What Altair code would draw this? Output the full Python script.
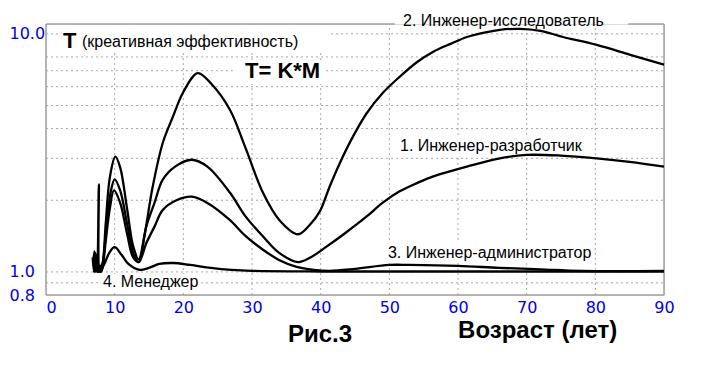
import altair as alt
import pandas as pd

# ---- curves (age, creative efficiency T) ----
c1_x = [6.8, 7.0, 7.2, 7.45, 7.7, 7.85, 8.1, 8.8, 9.4, 10.0, 10.8, 11.8, 12.7, 13.5, 14.6, 15.8, 17.0,
        18.8, 21.2, 23.5, 26.8, 29.0, 31.6, 34.0, 36.7, 38.5, 40.9, 43.5, 46.7, 49.0, 51.5, 54.0, 56.4,
        61.3, 66.1, 70.0, 75.0, 80.2, 85.0, 90.0]
c1_y = [1.15, 1.0, 1.2, 1.02, 2.33, 1.0, 1.02, 1.55, 2.15, 2.45, 2.2, 1.6, 1.2, 1.1, 1.55, 1.95, 2.44,
        2.77, 2.96, 2.77, 2.15, 1.72, 1.41, 1.2, 1.10, 1.15, 1.28, 1.45, 1.71, 1.95, 2.18, 2.36, 2.52,
        2.77, 3.0, 3.10, 3.08, 3.0, 2.9, 2.77]

c2_x = [6.9, 7.1, 7.3, 7.5, 7.9, 8.2, 8.7, 9.3, 10.1, 10.8, 11.8, 12.7, 13.5, 14.3, 15.5, 17.0, 18.5,
        20.0, 22.1, 24.0, 26.8, 29.0, 31.6, 34.0, 36.7, 38.4, 39.9, 41.3, 42.8, 44.7, 46.7, 49.0, 51.5,
        54.0, 56.4, 59.0, 61.3, 64.0, 66.1, 69.0, 72.0, 75.3, 80.2, 85.1, 90.0]
c2_y = [1.12, 1.0, 1.18, 1.0, 1.05, 1.08, 1.6, 2.5, 3.05, 2.75, 1.85, 1.28, 1.13, 1.4, 2.25, 3.48, 4.5,
        5.7, 6.84, 6.2, 4.79, 3.35, 2.15, 1.65, 1.44, 1.575, 1.8, 2.28, 2.87, 3.7, 4.64, 5.63, 6.6,
        7.6, 8.42, 9.1, 9.7, 10.15, 10.4, 10.5, 10.3, 9.7, 8.98, 8.16, 7.42]

c3_x = [6.85, 7.05, 7.25, 7.5, 8.0, 8.2, 8.7, 9.3, 9.9, 10.8, 11.8, 12.7, 13.5, 14.6, 15.8, 17.0, 19.0,
        21.2, 23.5, 26.8, 29.0, 31.6, 34.0, 36.5, 39.0, 41.3, 45.0, 50.0, 53.0, 60.0, 66.0, 72.0, 78.0, 90.0]
c3_y = [1.08, 1.22, 1.0, 1.1, 1.0, 1.03, 1.35, 1.85, 2.2, 1.95, 1.45, 1.15, 1.1, 1.32, 1.55, 1.82, 2.0,
        2.07, 1.95, 1.65, 1.42, 1.24, 1.12, 1.05, 1.02, 1.01, 1.03, 1.07, 1.07, 1.06, 1.04, 1.025, 1.01, 1.01]

c4_x = [7.0, 7.3, 7.6, 8.0, 8.5, 9.2, 10.0, 11.0, 12.0, 13.6, 15.0, 16.5, 18.5, 21.0, 24.0, 27.0, 30.0,
        40.0, 60.0, 90.0]
c4_y = [1.0, 1.1, 1.0, 1.02, 1.08, 1.2, 1.27, 1.18, 1.08, 1.02, 1.04, 1.08, 1.09, 1.07, 1.04, 1.02, 1.01,
        1.004, 1.004, 1.004]

# ---- axes / grid ----
x_ticks = [0, 10, 20, 30, 40, 50, 60, 70, 80, 90]
y_ticks = [0.8, 1.0, 10.0]
x_grid = [10, 20, 30, 40, 50, 60, 70, 80]
y_grid = [0.9, 1, 2, 3, 4, 5, 6, 7, 8, 10]
X_MIN, X_MAX, Y_MIN, Y_MAX = 0, 90, 0.8, 11

# ---- annotations ----
label_text = ["2. Инженер-исследователь", "1. Инженер-разработчик",
              "3. Инженер-администратор", "4. Менеджер"]
label_x = [52.0, 51.55, 49.8, 8.3]
label_y = [10.8, 3.22, 1.145, 0.865]

box_x1 = [2.0, 27.2, 51.1, 49.4, 7.86]
box_x2 = [41.1, 40.6, 78.5, 79.7, 22.4]
box_y1 = [8.55, 6.16, 3.10, 1.101, 0.824]
box_y2 = [10.85, 7.77, 3.72, 1.324, 0.981]

top_gap = [50.8, 84.8]

BLUE = "#0000e6"
GRID = "#a8a8a8"
FRAME = "#a0a0a0"

rows = []
for name, xs_, ys_ in [("1", c1_x, c1_y), ("2", c2_x, c2_y), ("3", c3_x, c3_y), ("4", c4_x, c4_y)]:
    for i, (a, b) in enumerate(zip(xs_, ys_)):
        rows.append({"series": name, "x": a, "y": b, "order": i})
curves = pd.DataFrame(rows)

xs = alt.Scale(domain=[X_MIN, X_MAX], nice=False, zero=False)
ys = alt.Scale(type="log", domain=[Y_MIN, Y_MAX], nice=False)

ax_x = alt.Axis(
    values=x_ticks, format="d", title=None, grid=False, ticks=False, tickSize=0, domain=False,
    labelFont="DejaVu Sans", labelFontSize=16, labelColor=BLUE, labelPadding=4,
    labelFlush=False,
    labelAlign={"condition": {"test": "datum.value == 0", "value": "left"}, "value": "center"},
)
ax_y = alt.Axis(
    values=y_ticks, format=".1f", title=None, grid=False, ticks=False, tickSize=0, domain=False,
    labelFont="DejaVu Sans", labelFontSize=16, labelColor=BLUE, labelPadding=37,
    labelAlign="left",
)

def X(field="x"):
    return alt.X(f"{field}:Q", scale=xs, axis=ax_x, title=None)

def Y(field="y"):
    return alt.Y(f"{field}:Q", scale=ys, axis=ax_y, title=None)

grid_rows = [{"x": X_MIN, "x2": X_MAX, "y": g, "y2": g} for g in y_grid] + \
            [{"x": g, "x2": g, "y": Y_MIN, "y2": Y_MAX} for g in x_grid]
grid = alt.Chart(pd.DataFrame(grid_rows)).mark_rule(
    color=GRID, strokeWidth=1, strokeDash=[2, 3]
).encode(x=X(), x2="x2:Q", y=Y(), y2="y2:Q")

boxes = alt.Chart(pd.DataFrame({"x": box_x1, "x2": box_x2, "y": box_y1, "y2": box_y2})).mark_rect(
    color="white"
).encode(x=X(), x2="x2:Q", y=Y(), y2="y2:Q")

frame_rows = [
    {"x": X_MIN, "x2": X_MIN, "y": Y_MIN, "y2": Y_MAX},
    {"x": X_MAX, "x2": X_MAX, "y": Y_MIN, "y2": Y_MAX},
    {"x": X_MIN, "x2": X_MAX, "y": Y_MIN, "y2": Y_MIN},
    {"x": X_MIN, "x2": top_gap[0], "y": Y_MAX, "y2": Y_MAX},
    {"x": top_gap[1], "x2": X_MAX, "y": Y_MAX, "y2": Y_MAX},
]
frame = alt.Chart(pd.DataFrame(frame_rows)).mark_rule(color=FRAME, strokeWidth=1.5).encode(
    x=X(), x2="x2:Q", y=Y(), y2="y2:Q"
)

lines = alt.Chart(curves).mark_line(color="black", strokeWidth=2.3, interpolate="catmull-rom").encode(
    x=X(), y=Y(), detail="series:N", order="order:Q",
)

def text_layer(txt, x, y, size, weight="normal", align="left", font="Liberation Sans"):
    return alt.Chart(pd.DataFrame({"t": txt, "x": x, "y": y})).mark_text(
        align=align, baseline="alphabetic", font=font, fontSize=size, fontWeight=weight, color="black"
    ).encode(x=X(), y=Y(), text="t:N")

labels = text_layer(label_text, label_x, label_y, 16)
t_big = text_layer(["T"], [2.48], [8.73], 22, "bold")
t_sub = text_layer(["(креативная эффективность)"], [5.24], [8.84], 16)
formula = text_layer(["T= K*M"], [28.98], [6.53], 22, "bold")
fig = text_layer(["Рис.3"], [39.9], [0.508], 24, "bold", "center")
xtitle = text_layer(["Возраст (лет)"], [71.6], [0.53], 24, "bold", "center")

chart = alt.layer(grid, boxes, frame, lines, labels, t_big, t_sub, formula, fig, xtitle).properties(
    width=618, height=271,
    padding={"left": 38, "top": 16, "right": 40, "bottom": 70},
    autosize="none",
).configure_view(stroke=None).configure(background="white")

chart.save("out.html", embed_options={"renderer": "svg", "actions": False})
